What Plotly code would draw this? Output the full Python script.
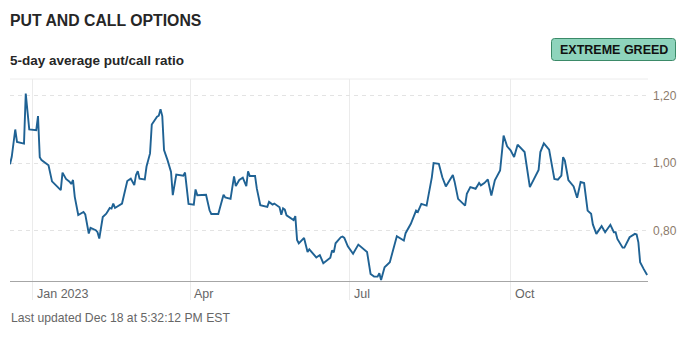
import plotly.graph_objects as go

# 5-day average put/call ratio
dates = [
    "2022-12-19", "2022-12-20", "2022-12-22", "2022-12-23", "2022-12-27", "2022-12-28", "2022-12-30",
    "2023-01-03", "2023-01-04", "2023-01-05", "2023-01-06", "2023-01-09", "2023-01-10", "2023-01-12",
    "2023-01-17", "2023-01-18", "2023-01-20", "2023-01-22", "2023-01-23", "2023-01-24", "2023-01-25",
    "2023-01-27", "2023-01-30", "2023-01-31", "2023-02-02", "2023-02-03", "2023-02-06", "2023-02-07",
    "2023-02-08", "2023-02-10", "2023-02-12", "2023-02-14", "2023-02-15", "2023-02-16", "2023-02-17",
    "2023-02-21", "2023-02-22", "2023-02-24", "2023-02-26", "2023-02-28", "2023-03-01", "2023-03-02",
    "2023-03-03", "2023-03-06", "2023-03-07", "2023-03-09", "2023-03-10", "2023-03-12", "2023-03-13",
    "2023-03-14", "2023-03-15", "2023-03-16", "2023-03-17", "2023-03-19", "2023-03-21", "2023-03-22",
    "2023-03-24", "2023-03-28", "2023-03-29", "2023-03-31", "2023-04-03", "2023-04-04", "2023-04-05",
    "2023-04-10", "2023-04-12", "2023-04-13", "2023-04-17", "2023-04-18", "2023-04-20", "2023-04-21",
    "2023-04-24", "2023-04-26", "2023-04-27", "2023-04-29", "2023-05-01", "2023-05-03", "2023-05-04",
    "2023-05-05", "2023-05-08", "2023-05-09", "2023-05-11", "2023-05-15", "2023-05-16", "2023-05-18",
    "2023-05-19", "2023-05-22", "2023-05-23", "2023-05-24", "2023-05-25", "2023-05-26", "2023-05-30",
    "2023-05-31", "2023-06-01", "2023-06-02", "2023-06-05", "2023-06-07", "2023-06-08", "2023-06-12",
    "2023-06-14", "2023-06-16", "2023-06-20", "2023-06-21", "2023-06-22", "2023-06-23", "2023-06-26",
    "2023-06-27", "2023-06-28", "2023-06-30", "2023-07-03", "2023-07-06", "2023-07-11", "2023-07-13",
    "2023-07-15", "2023-07-17", "2023-07-18", "2023-07-19", "2023-07-21", "2023-07-24", "2023-07-27",
    "2023-07-28", "2023-08-01", "2023-08-02", "2023-08-05", "2023-08-08", "2023-08-09", "2023-08-11",
    "2023-08-14", "2023-08-15", "2023-08-17", "2023-08-18", "2023-08-21", "2023-08-23", "2023-08-25",
    "2023-08-29", "2023-08-30", "2023-09-01", "2023-09-05", "2023-09-06", "2023-09-08", "2023-09-11",
    "2023-09-13", "2023-09-14", "2023-09-16", "2023-09-18", "2023-09-20", "2023-09-22", "2023-09-25",
    "2023-09-27", "2023-09-29", "2023-10-01", "2023-10-03", "2023-10-05", "2023-10-06", "2023-10-09",
    "2023-10-12", "2023-10-15", "2023-10-17", "2023-10-18", "2023-10-20", "2023-10-23", "2023-10-25",
    "2023-10-26", "2023-10-28", "2023-10-30", "2023-10-31", "2023-11-01", "2023-11-03", "2023-11-06",
    "2023-11-08", "2023-11-10", "2023-11-12", "2023-11-14", "2023-11-16", "2023-11-17", "2023-11-19",
    "2023-11-22", "2023-11-24", "2023-11-27", "2023-11-29", "2023-11-30", "2023-12-01", "2023-12-04",
    "2023-12-05", "2023-12-08", "2023-12-11", "2023-12-12", "2023-12-13", "2023-12-14", "2023-12-16",
    "2023-12-18",
]
ratios = [
    0.997, 1.019, 1.100, 1.063, 1.058, 1.207, 1.100,
    1.098, 1.140, 1.018, 1.009, 0.998, 0.994, 0.946,
    0.920, 0.972, 0.953, 0.945, 0.938, 0.950, 0.900,
    0.846, 0.855, 0.848, 0.791, 0.808, 0.801, 0.795,
    0.776, 0.840, 0.850, 0.867, 0.865, 0.880, 0.867,
    0.880, 0.905, 0.947, 0.954, 0.935, 0.965, 0.976,
    0.954, 0.952, 0.990, 1.029, 1.115, 1.133, 1.138,
    1.141, 1.160, 1.140, 1.039, 1.009, 0.974, 0.905,
    0.966, 0.963, 0.972, 0.879, 0.877, 0.922, 0.905,
    0.906, 0.860, 0.849, 0.849, 0.868, 0.906, 0.898,
    0.894, 0.961, 0.932, 0.950, 0.957, 0.932, 0.976,
    0.962, 0.962, 0.925, 0.875, 0.870, 0.885, 0.877,
    0.880, 0.869, 0.847, 0.866, 0.862, 0.845, 0.831,
    0.843, 0.772, 0.762, 0.778, 0.736, 0.744, 0.720,
    0.727, 0.703, 0.719, 0.741, 0.735, 0.762, 0.780,
    0.782, 0.778, 0.753, 0.731, 0.758, 0.736, 0.671,
    0.663, 0.663, 0.673, 0.653, 0.691, 0.706, 0.770,
    0.783, 0.770, 0.792, 0.820, 0.859, 0.855, 0.879,
    0.874, 0.899, 0.958, 1.000, 0.998, 0.958, 0.931,
    0.965, 0.945, 0.894, 0.874, 0.909, 0.929, 0.924,
    0.941, 0.934, 0.941, 0.952, 0.904, 0.949, 0.978,
    1.082, 1.050, 1.038, 1.018, 1.055, 1.050, 1.033,
    0.929, 0.958, 0.980, 1.033, 1.059, 1.040, 0.988,
    0.953, 0.951, 0.963, 1.018, 1.008, 0.950, 0.931,
    0.897, 0.944, 0.941, 0.859, 0.850, 0.818, 0.790,
    0.813, 0.795, 0.817, 0.795, 0.795, 0.775, 0.749,
    0.749, 0.780, 0.790, 0.788, 0.765, 0.706, 0.686,
    0.668,
]

x_tick_dates = ["2023-01-01", "2023-04-01", "2023-07-01", "2023-10-01"]
x_tick_labels = ["Jan 2023", "Apr", "Jul", "Oct"]
y_tick_vals = [0.8, 1.0, 1.2]

title_text = "PUT AND CALL OPTIONS"
subtitle_text = "5-day average put/call ratio"
badge_text = "EXTREME GREED"
footer_text = "Last updated Dec 18 at 5:32:12 PM EST"

W, H = 688, 339
M_L, M_R, M_T, M_B = 10, 40, 79, 58
PW, PH = W - M_L - M_R, H - M_T - M_B


def px(x):
    return (x - M_L) / PW


def py(y):
    return (H - M_B - y) / PH


FONT = "Liberation Sans, Arial, sans-serif"

fig = go.Figure()
fig.add_trace(go.Scatter(
    x=dates, y=ratios, mode="lines",
    line=dict(color="#1f6294", width=1.9),
    hoverinfo="skip", showlegend=False,
))

# rounded badge box
bx0, bx1, by0, by1, r = 551.5, 675.5, 38.5, 60.5, 3
badge_path = (
    f"M {px(bx0 + r)},{py(by0)} L {px(bx1 - r)},{py(by0)} "
    f"Q {px(bx1)},{py(by0)} {px(bx1)},{py(by0 + r)} "
    f"L {px(bx1)},{py(by1 - r)} Q {px(bx1)},{py(by1)} {px(bx1 - r)},{py(by1)} "
    f"L {px(bx0 + r)},{py(by1)} Q {px(bx0)},{py(by1)} {px(bx0)},{py(by1 - r)} "
    f"L {px(bx0)},{py(by0 + r)} Q {px(bx0)},{py(by0)} {px(bx0 + r)},{py(by0)} Z"
)

shapes = [
    dict(type="path", xref="paper", yref="paper", path=badge_path,
         fillcolor="#8ed4bc", line=dict(color="#3b8a68", width=1), layer="above"),
    dict(type="line", xref="paper", yref="paper", x0=0, x1=1, y0=1, y1=1,
         line=dict(color="#ececec", width=1), layer="below"),
]

annotations = [
    dict(text=f"<b>{title_text}</b>", xref="paper", yref="paper",
         x=px(10), y=py(20.5), xanchor="left", yanchor="middle", xshift=-2,
         showarrow=False, font=dict(family=FONT, size=15.8, color="#262626")),
    dict(text=f"<b>{subtitle_text}</b>", xref="paper", yref="paper",
         x=px(10), y=py(61), xanchor="left", yanchor="middle", xshift=-2,
         showarrow=False, font=dict(family=FONT, size=13.5, color="#262626")),
    dict(text=f"<b>{badge_text}</b>", xref="paper", yref="paper",
         x=px((bx0 + bx1) / 2), y=py((by0 + by1) / 2), xanchor="center", yanchor="middle",
         showarrow=False, font=dict(family=FONT, size=12.5, color="#111111")),
    dict(text=footer_text, xref="paper", yref="paper",
         x=px(10), y=py(318), xanchor="left", yanchor="middle", xshift=-1,
         showarrow=False, font=dict(family=FONT, size=12.2, color="#666666")),
]
for d, lab in zip(x_tick_dates, x_tick_labels):
    annotations.append(dict(
        text=lab, xref="x", yref="paper", x=d, y=py(294),
        xanchor="left", yanchor="middle", xshift=2, showarrow=False,
        font=dict(family=FONT, size=12.5, color="#666666"),
    ))

fig.update_layout(
    width=W, height=H,
    margin=dict(l=M_L, r=M_R, t=M_T, b=M_B, pad=0),
    paper_bgcolor="white", plot_bgcolor="white",
    separators=", ",
    shapes=shapes, annotations=annotations,
    xaxis=dict(
        type="date", range=["2022-12-19", "2023-12-18 12:00"],
        tickvals=x_tick_dates, showticklabels=False,
        showgrid=True, gridcolor="#ebebeb", gridwidth=1,
        ticks="outside", ticklen=18, tickcolor="#ebebeb", tickwidth=1,
        showline=True, linecolor="#a6a6a6", linewidth=1,
        zeroline=False, fixedrange=True,
    ),
    yaxis=dict(
        range=[0.65, 1.25], side="right",
        tickvals=y_tick_vals, tickformat=".2f",
        showgrid=True, gridcolor="#e3e3e3", gridwidth=1, griddash="4px,4px",
        ticks="", ticklabelstandoff=4,
        tickfont=dict(family=FONT, size=12, color="#8c7b6b"),
        showline=False, zeroline=False, fixedrange=True,
    ),
)

fig.write_html("out.html", config={"displayModeBar": False})
